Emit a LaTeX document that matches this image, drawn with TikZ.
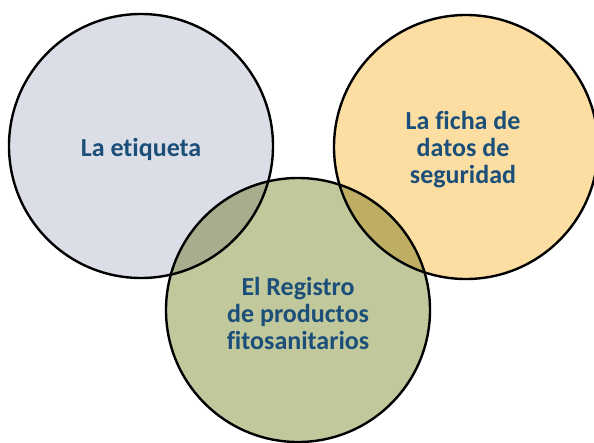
\documentclass[tikz,border=0pt]{standalone}
\usepackage{fontspec}
\setmainfont[Ligatures=NoCommon]{Carlito}
\definecolor{cleft}{HTML}{DCDEE7}
\definecolor{cright}{HTML}{FCDEA2}
\definecolor{cbottom}{HTML}{C0C89C}
\definecolor{clb}{HTML}{A6AE8D}
\definecolor{crb}{HTML}{BEAE63}
\definecolor{ctext}{HTML}{1B4F7A}
\tikzset{
  ring/.style={circle, draw=black, line width=2.4pt, minimum size=264pt, inner sep=0pt},
  lbl/.style={text=ctext, font=\fontsize{26}{27}\selectfont\bfseries, align=center}
}
\begin{document}
\begin{tikzpicture}[x=1pt,y=-1pt]
\useasboundingbox (0,0) rectangle (594,442);
% fills
\fill[cleft] (141,146) circle (131);
\fill[cright] (466,147) circle (131);
\fill[cbottom] (298,310) circle (131);
\begin{scope}
  \clip (141,146) circle (131);
  \fill[clb] (298,310) circle (131);
\end{scope}
\begin{scope}
  \clip (466,147) circle (131);
  \fill[crb] (298,310) circle (131);
\end{scope}
% outlines as named nodes
\node[ring] (left) at (141,146) {};
\node[ring] (right) at (466,147) {};
\node[ring] (bottom) at (298,310) {};
% labels
\node[lbl] (tleft) at (141,149) {La etiqueta};
\node[lbl] (tright) at (463,150) {La ficha de\\datos de\\seguridad};
\node[lbl] (tbottom) at (298,313) {El Registro\\de productos\\fitosanitarios};
\end{tikzpicture}
\end{document}
